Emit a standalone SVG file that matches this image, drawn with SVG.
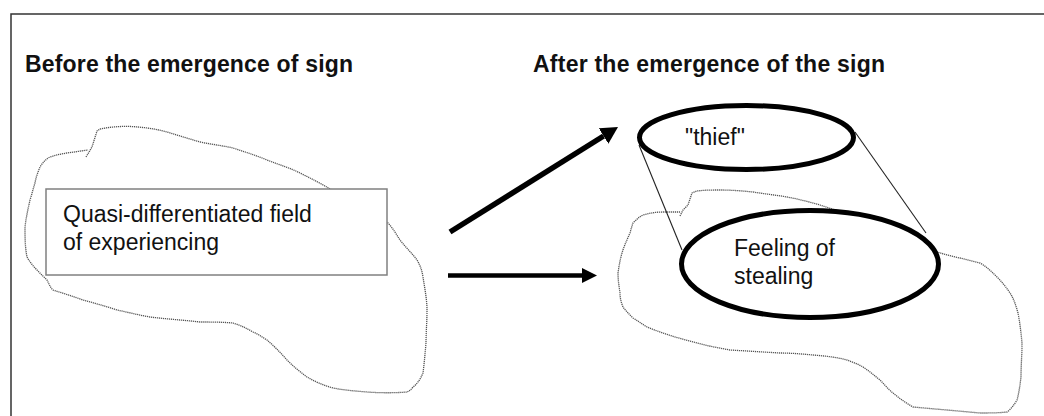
<svg xmlns="http://www.w3.org/2000/svg" width="1044" height="416" viewBox="0 0 1044 416">
<style>
.frame{stroke:#333;stroke-width:1.5;fill:none}
.cloud{fill:none;stroke:#555;stroke-width:1.3;stroke-dasharray:1.2 0.8;stroke-linejoin:round}
.title{font-family:"Liberation Sans",Arial,sans-serif;font-size:23px;font-weight:bold;fill:#111}
.lbl{font-family:"Liberation Sans",Arial,sans-serif;font-size:23px;fill:#111}
.box{fill:#fff;stroke:#808080;stroke-width:1.5}
.ell{fill:#fff;stroke:#000;stroke-width:5}
.thin{stroke:#222;stroke-width:1.1;fill:none}
.arrow{stroke:#000;fill:none;stroke-linecap:butt}
</style>
<defs>
<marker id="headA" viewBox="0 0 17 18" refX="0" refY="9" markerWidth="17" markerHeight="18" markerUnits="userSpaceOnUse" orient="auto">
<path d="M0,0 L17,9 L0,18 z" fill="#000"/>
</marker>
<marker id="headB" viewBox="0 0 15 15" refX="0" refY="7.5" markerWidth="15" markerHeight="15" markerUnits="userSpaceOnUse" orient="auto">
<path d="M0,0 L15,7.5 L0,15 z" fill="#000"/>
</marker>
</defs>
<rect width="1044" height="416" fill="#fff"/>
<g id="frame">
<path class="frame" d="M11,416 L11,14 L1044,14"/>
</g>
<g id="titles">
<text class="title" x="25" y="72" textLength="328" lengthAdjust="spacing">Before the emergence of sign</text>
<text class="title" x="533" y="72" textLength="352" lengthAdjust="spacing">After the emergence of the sign</text>
</g>
<g id="left-field">
<path class="cloud" d="M86,157 L92,147 L97,131 L100,129 C115,126 128,126 138,127 C150,128 160,130 167,132 C180,136 190,139 200,142 C215,145 225,146 233,148 C245,152 255,155 267,160 C280,165 290,168 300,173 C312,179 322,184 330,189 C350,200 375,210 387,222 C393,228 396,234 400,240 C406,248 412,253 417,260 C421,267 422,271 423,277 C425,290 427,300 427,310 C427,322 426,333 426,343 C425,355 424,365 423,373 C420,380 417,384 413,387 C411,390 409,391 407,392 C395,393 380,393 367,392 C355,391 343,390 333,388 C322,385 314,381 307,377 C300,372 293,366 287,360 C280,352 273,345 267,340 C262,337 258,334 253,332 C246,328 240,325 233,323 C222,322 210,322 200,322 C183,320 166,319 150,317 C138,315 127,312 117,310 C105,306 94,303 83,300 C72,296 62,293 53,290 C50,287 49,284 47,280 C40,273 32,266 27,257 C25,247 25,237 25,227 C26,218 28,209 30,200 C32,194 33,189 35,183 C36,177 38,172 40,167 C43,162 46,159 50,157 C56,155 61,154 67,153 C74,152 81,151 88,150"/>
</g>
<g id="node-field">
<rect class="box" x="46" y="189" width="341" height="86"/>
<text class="lbl" x="63" y="222">Quasi-differentiated field</text>
<text class="lbl" x="63" y="250">of experiencing</text>
</g>
<g id="right-field">
<path class="cloud" d="M680,216 L683,210 L688,205 L692,193 L697,191 C705,190 712,190 720,190 C732,190 743,191 753,192 C765,194 776,195 787,197 C798,199 810,202 820,205 C860,218 905,235 937,252 C950,256 965,259 980,263 C987,267 992,272 997,277 C1002,282 1006,287 1010,293 C1014,299 1016,306 1018,313 C1020,323 1021,333 1022,343 C1022,355 1021,366 1021,377 C1020,385 1019,393 1017,400 C1014,405 1011,409 1007,412 C998,413 989,413 980,413 C969,412 958,411 947,410 C935,409 924,408 913,407 C906,403 899,398 893,393 C888,389 884,384 880,380 C874,375 869,371 863,367 C858,364 852,362 847,360 C836,357 825,356 813,355 C802,354 791,353 780,353 C763,352 747,351 730,350 C719,348 708,346 697,343 C686,340 674,337 663,333 C657,331 652,329 647,327 C642,324 638,321 633,318 C629,314 626,311 623,307 C621,302 620,298 620,293 C619,286 618,280 618,273 C619,266 620,260 622,253 C624,246 627,240 630,233 C631,229 632,226 633,223 C636,220 639,217 643,215 C650,213 656,212 663,212 C669,212 674,212 680,212"/>
</g>
<g id="connectors">
<line class="arrow" x1="450" y1="232" x2="603.6" y2="136" stroke-width="5.5" marker-end="url(#headA)"/>
<line class="arrow" x1="448" y1="275.5" x2="582" y2="275.5" stroke-width="4.5" marker-end="url(#headB)"/>
<line class="thin" x1="639" y1="145" x2="682" y2="250"/>
<line class="thin" x1="855" y1="132" x2="926" y2="233"/>
</g>
<g id="node-thief">
<ellipse class="ell" cx="746.5" cy="137.5" rx="107" ry="32"/>
<text class="lbl" x="685" y="145">"thief"</text>
</g>
<g id="node-feeling">
<ellipse class="ell" cx="810" cy="264" rx="128.5" ry="53.5"/>
<text class="lbl" x="734" y="256">Feeling of</text>
<text class="lbl" x="734" y="284">stealing</text>
</g>
</svg>
